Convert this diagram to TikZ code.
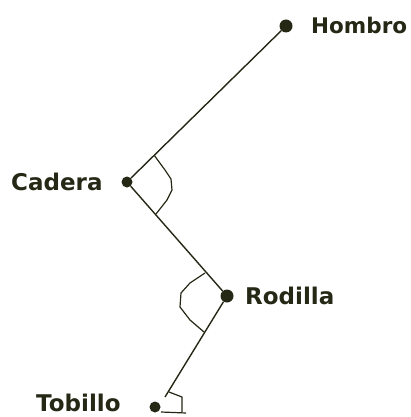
\documentclass[tikz,border=0pt]{standalone}
\usepackage{fontspec}
\newfontfamily\lblfont{DejaVu Sans}[BoldFont={DejaVu Sans Bold}]
\definecolor{ink}{RGB}{38,40,22}
\begin{document}
\begin{tikzpicture}[x=1pt,y=-1pt,
  joint/.style={circle,fill=ink,draw=none,inner sep=0pt,minimum size=#1},
  joint/.default=11pt,
  lbl/.style={anchor=base west,inner sep=0pt,text=ink,font=\lblfont\bfseries\fontsize{23}{26}\selectfont},
  seg/.style={draw=ink,line width=1.4pt},
  anglemark/.style={draw=ink,line width=1.2pt,line join=round}]
\useasboundingbox (0,0) rectangle (410,417);
% joints
\node[joint=13pt] (hombro) at (286,26) {};
\node[joint=11pt] (cadera) at (127,182) {};
\node[joint=13pt] (rodilla) at (227,296) {};
\node[joint=11pt] (tobillo) at (155,407) {};
% labels
\node[lbl,font=\lblfont\bfseries\fontsize{21.5}{24}\selectfont] (lh) at (311,34) {Hombro};
\node[lbl] (lc) at (11,190) {Cadera};
\node[lbl] (lr) at (245,304) {Rodilla};
\node[lbl] (lt) at (36,411) {Tobillo};
% segments
\draw[seg] (hombro) -- (cadera);
\draw[seg] (cadera) -- (rodilla);
\coordinate (legend) at (165,397);
\draw[seg] (rodilla) -- (legend);
% angle marks
\draw[anglemark] (154,155) -- (165,170) -- (171,179) -- (172,190) -- (167,200) -- (156,214);
\draw[anglemark] (205,273) -- (190,283) -- (181,293) -- (180,307) -- (190,320) -- (204,332);
\draw[anglemark] (169,392) -- (182,397) -- (182,412);
\coordinate (footstart) at (161,412);
\coordinate (footend) at (186,413);
\draw[anglemark] (footstart) -- (footend);
\end{tikzpicture}
\end{document}
